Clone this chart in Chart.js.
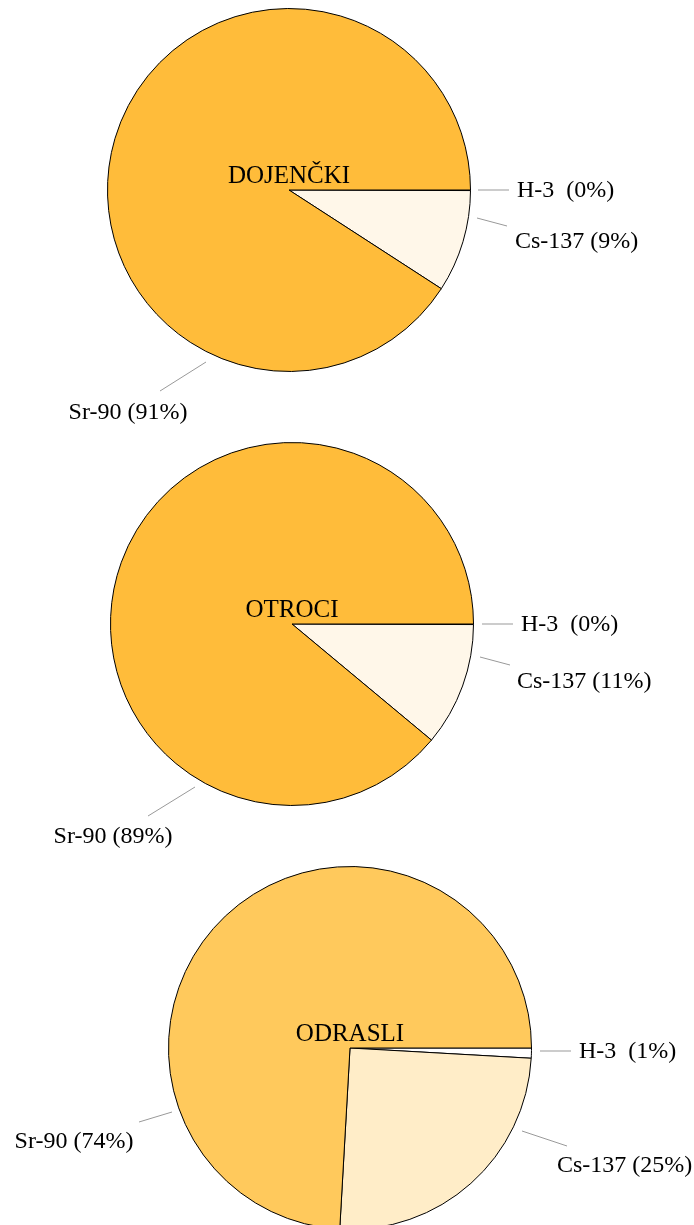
<!DOCTYPE html>
<html>
<head>
<meta charset="utf-8">
<script src="https://cdn.jsdelivr.net/npm/chart.js@4/dist/chart.umd.min.js"></script>
<style>
  html, body { margin: 0; padding: 0; background: #fff; overflow: hidden; }
  body { width: 694px; height: 1225px; position: relative; }
  canvas { position: absolute; left: 0; }
</style>
</head>
<body>
<canvas id="pie0" width="694" height="480"></canvas>
<canvas id="pie1" width="694" height="480"></canvas>
<canvas id="pie2" width="694" height="480"></canvas>
<script>
// data
const categories = ['H-3', 'Cs-137', 'Sr-90'];
const groups = ['DOJENČKI', 'OTROCI', 'ODRASLI'];
const infantValues = [0.05, 9.1, 90.85];
const childValues = [0.05, 11.0, 88.95];
const adultValues = [0.9, 25.0, 74.1];
const allValues = [infantValues, childValues, adultValues];

const darkColors = ['#ffffff', '#fff7e9', '#ffbc3a'];
const lightColors = ['#ffffff', '#ffedc8', '#ffc95c'];
const colorSets = [darkColors, darkColors, lightColors];

// layout: pie centre on the page, and leader/label offsets from the centre
const R = 181.5;
const centers = [[289, 190], [292, 624], [350, 1048]];
const leaders = [
    [[189, 0, 220, 0, 228, 7, 'left'], [188, 28, 218, 36, 226, 58, 'left'], [-83, 172, -129, 201, -161, 229, 'center']],
    [[190, 0, 221, 0, 229, 7, 'left'], [188, 33, 218, 41, 225, 64, 'left'], [-97, 163, -144, 192, -179, 219, 'center']],
    [[190, 3, 221, 3, 229, 10, 'left'], [172, 83, 217, 98, 207, 124, 'left'], [-178, 64, -211, 74, -276, 100, 'center']]
];
const font = '"Liberation Serif", "Times New Roman", serif';

const labelPlugin = {
    id: 'pieLabels',
    afterDraw(chart) {
        const ctx = chart.ctx;
        const arc = chart.getDatasetMeta(0).data[0];
        const cx = arc.x, cy = arc.y;
        const idx = chart.options.plugins.pieLabels.index;
        const values = allValues[idx];
        const total = values.reduce((a, b) => a + b, 0);
        ctx.save();
        ctx.fillStyle = '#000';
        ctx.font = '25px ' + font;
        ctx.textAlign = 'center';
        ctx.textBaseline = 'alphabetic';
        ctx.fillText(groups[idx], cx, cy - 7);

        ctx.font = '24px ' + font;
        leaders[idx].forEach((l, i) => {
            ctx.strokeStyle = '#999';
            ctx.lineWidth = 1;
            ctx.beginPath();
            ctx.moveTo(cx + l[0], cy + l[1]);
            ctx.lineTo(cx + l[2], cy + l[3]);
            ctx.stroke();
            const pct = Math.round(values[i] / total * 100);
            const gap = categories[i] === 'H-3' ? '  ' : ' ';
            ctx.textAlign = l[6];
            ctx.fillText(categories[i] + gap + '(' + pct + '%)', cx + l[4], cy + l[5]);
        });
        ctx.restore();
    }
};

allValues.forEach((values, i) => {
    const canvas = document.getElementById('pie' + i);
    const cx = centers[i][0], cy = centers[i][1];
    canvas.style.top = (cy - 220) + 'px';
    const side = 2 * R + 1;
    new Chart(canvas, {
        type: 'pie',
        data: {
            labels: categories,
            datasets: [{
                data: values,
                backgroundColor: colorSets[i],
                borderColor: '#000',
                borderWidth: 1
            }]
        },
        options: {
            responsive: false,
            animation: false,
            events: [],
            rotation: 90,
            layout: {
                padding: {
                    left: cx - side / 2,
                    right: 694 - cx - side / 2,
                    top: 220 - side / 2,
                    bottom: 480 - 220 - side / 2
                }
            },
            plugins: {
                legend: { display: false },
                tooltip: { enabled: false },
                pieLabels: { index: i }
            }
        },
        plugins: [labelPlugin]
    });
});
</script>
</body>
</html>
